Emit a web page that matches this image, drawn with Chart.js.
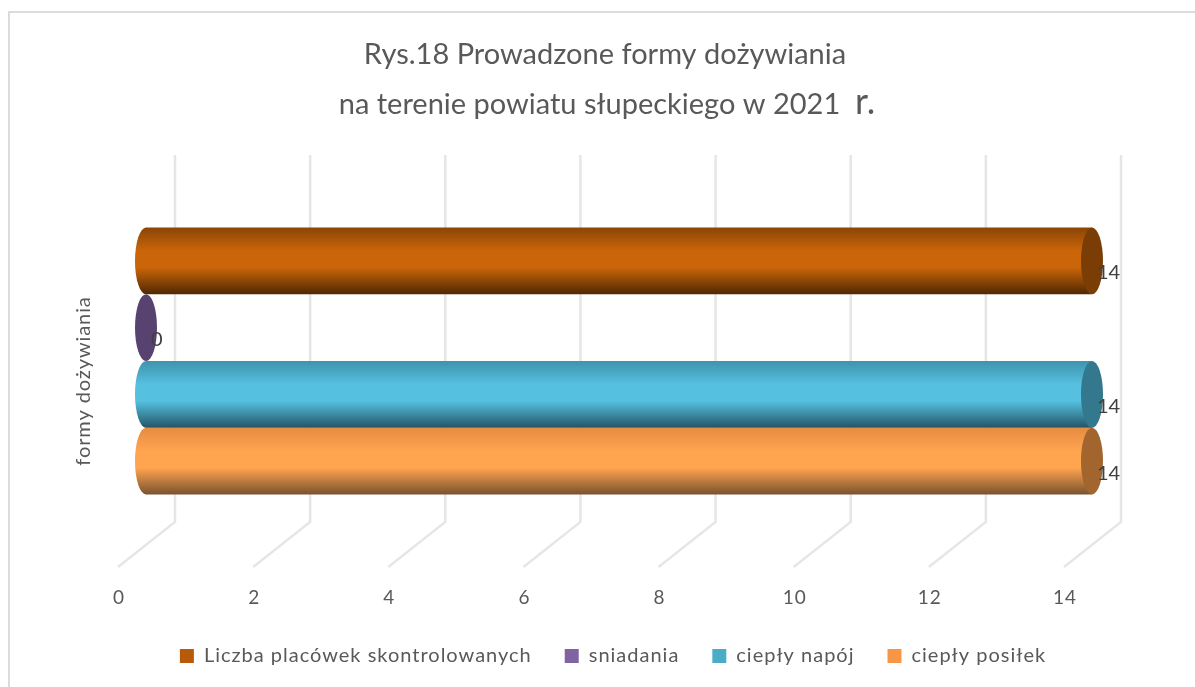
<!DOCTYPE html>
<html lang="pl">
<head>
<meta charset="utf-8">
<title>Rys.18</title>
<script src="https://cdn.jsdelivr.net/npm/chart.js@4/dist/chart.umd.min.js"></script>
<style>
  html, body { margin: 0; background: #fff; }
  #wrap { position: relative; width: 1195px; height: 687px; overflow: hidden; }
  #frame { position: absolute; left: 8px; top: 11px; right: -4px; bottom: -4px; border: 2px solid #dcdcdc; }
  canvas { position: absolute; left: 0; top: 0; }
</style>
</head>
<body>
<div id="wrap"><div id="frame"></div><canvas id="chart" width="1195" height="687"></canvas></div>
<script>
// values
const categories = ['formy dożywiania']
const seriesNames = ['Liczba placówek skontrolowanych', 'sniadania', 'ciepły napój', 'ciepły posiłek']
const seriesValues = [14, 0, 14, 14]
const xTicks = [0, 2, 4, 6, 8, 10, 12, 14]
const titleLines = ['Rys.18 Prowadzone formy dożywiania', 'na terenie powiatu słupeckiego w 2021']
const titleSuffix = 'r.'

const legendColors = ['#b85a08', '#8064a2', '#4bacc6', '#f79646']
// top edge, middle, bottom edge of each cylinder + colour of its end face
const shades = [
  ['#8a4506', '#cb6509', '#4f2703', '#7a3d05'],
  ['#584270', '#584270', '#584270', '#584270'],
  ['#3f93ac', '#55c0e0', '#235566', '#33788c'],
  ['#e58c42', '#ffa44f', '#7a5230', '#a2652e'],
]

const FONT = 'Lato, "Open Sans", sans-serif'
const TEXT = '#595959'
const GRID = '#e6e6e6'
const DEPTH_X = 28, DEPTH_Y = 22   // half the depth of the fake 3D box
const CAP = 11                     // horizontal radius of cylinder ends

const paintPlugin = {
  id: 'paint',
  beforeLayout(chart) { chart.ctx.letterSpacing = '1px' },
  beforeDatasetsDraw(chart) {
    // walls and floor lines, offset from the mid-depth plane the bars sit on
    const { ctx, chartArea: a, scales: { x } } = chart
    ctx.save()
    ctx.strokeStyle = GRID
    ctx.lineWidth = 2.5
    for (const v of xTicks) {
      const px = x.getPixelForValue(v)
      ctx.beginPath()
      ctx.moveTo(px + DEPTH_X + 1, a.top - DEPTH_Y)
      ctx.lineTo(px + DEPTH_X + 1, a.bottom - DEPTH_Y - 1)
      ctx.lineTo(px - DEPTH_X, a.bottom + DEPTH_Y)
      ctx.stroke()
    }
    ctx.restore()
  },
  beforeDatasetDraw(chart, { index, meta }) {
    const el = meta.data[0]
    const top = el.y - el.height / 2
    const g = chart.ctx.createLinearGradient(0, top, 0, top + el.height)
    g.addColorStop(0, shades[index][0])
    g.addColorStop(0.35, shades[index][1])
    g.addColorStop(0.6, shades[index][1])
    g.addColorStop(1, shades[index][2])
    el.options = { ...el.options, backgroundColor: g }
  },
  afterDatasetDraw(chart, { index, meta }) {
    const { ctx } = chart
    const el = meta.data[0]
    const ry = el.height / 2
    ctx.save()
    if (seriesValues[index] > 0) {
      ctx.fillStyle = el.options.backgroundColor
      ctx.beginPath()
      ctx.ellipse(el.base, el.y, CAP, ry, 0, Math.PI / 2, Math.PI * 1.5)
      ctx.fill()
    }
    ctx.fillStyle = shades[index][3]
    ctx.beginPath()
    ctx.ellipse(el.x, el.y, CAP, ry, 0, 0, Math.PI * 2)
    ctx.fill()
    ctx.restore()
  },
  afterDatasetsDraw(chart) {
    const { ctx } = chart
    ctx.save()
    ctx.letterSpacing = '0px'
    // data labels
    ctx.font = `20px ${FONT}`
    ctx.fillStyle = '#404040'
    ctx.textAlign = 'left'
    ctx.textBaseline = 'middle'
    seriesValues.forEach((v, i) => {
      const el = chart.getDatasetMeta(i).data[0]
      ctx.fillText(String(v), el.x + 5, el.y + 12)
    })
    // axis title sits lower than the middle of the plot
    ctx.letterSpacing = '0.9px'
    ctx.fillStyle = TEXT
    ctx.translate(84, 381)
    ctx.rotate(-Math.PI / 2)
    ctx.textAlign = 'center'
    ctx.fillText(categories[0], 0, 0)
    ctx.restore()
    // chart title, "r." is set bigger in the original
    ctx.save()
    ctx.letterSpacing = '0px'
    ctx.fillStyle = TEXT
    ctx.textBaseline = 'alphabetic'
    ctx.textAlign = 'left'
    ctx.font = `29px ${FONT}`
    const w1 = ctx.measureText(titleLines[0]).width
    const w2 = ctx.measureText(titleLines[1] + '  ').width
    ctx.fillText(titleLines[0], 605 - w1 / 2, 64)
    ctx.font = `36px ${FONT}`
    const w3 = ctx.measureText(titleSuffix).width
    ctx.fillText(titleSuffix, 607 - (w2 + w3) / 2 + w2, 114)
    ctx.font = `29px ${FONT}`
    ctx.fillText(titleLines[1], 607 - (w2 + w3) / 2, 114)
    ctx.restore()
  },
}

new Chart(document.getElementById('chart'), {
  type: 'bar',
  plugins: [paintPlugin],
  data: {
    labels: categories,
    datasets: seriesNames.map((name, i) => ({
      label: name,
      data: [seriesValues[i]],
      backgroundColor: legendColors[i],
      borderWidth: 0,
      barPercentage: 1,
      categoryPercentage: 0.725,
    })),
  },
  options: {
    indexAxis: 'y',
    responsive: false,
    animation: false,
    layout: { padding: { top: 177, left: 31, right: 0, bottom: 11 } },
    scales: {
      x: {
        min: 0,
        max: 14,
        afterFit: s => { s.height = 68 },
        afterBuildTicks: s => { s.ticks = xTicks.map(value => ({ value })) },
        border: { display: false },
        grid: { display: false },
        ticks: { color: TEXT, font: { family: FONT, size: 19 }, labelOffset: -27, padding: 33, maxRotation: 0 },
      },
      y: {
        afterFit: s => { s.width = 115 },
        border: { display: false },
        grid: { display: false },
        ticks: { display: false },
      },
      // only reserves the empty strip right of the plot
      spare: {
        position: 'right',
        afterFit: s => { s.width = 103 },
        border: { display: false },
        grid: { display: false },
        ticks: { display: false },
      },
    },
    plugins: {
      title: { display: false },
      tooltip: { enabled: false },
      legend: {
        position: 'bottom',
        labels: { color: TEXT, font: { family: FONT, size: 20 }, boxWidth: 14, boxHeight: 14, padding: 33 },
      },
    },
  },
})
</script>
</body>
</html>
